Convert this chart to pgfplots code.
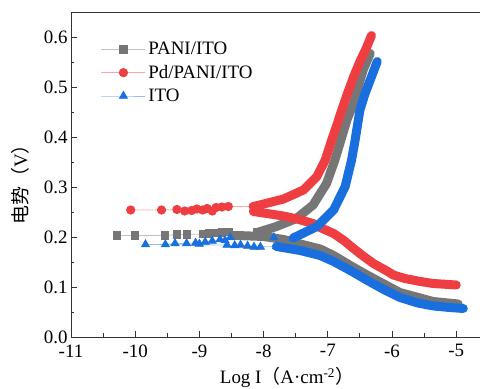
\documentclass[border=0pt]{standalone}
\usepackage{fontspec}
\setmainfont{Liberation Serif}
\newfontfamily\cjk{Noto Sans CJK SC}
\usepackage{pgfplots}
\pgfplotsset{compat=1.18}
\definecolor{cred}{RGB}{239,62,66}
\definecolor{cgray}{RGB}{118,118,118}
\definecolor{cblue}{RGB}{26,111,223}
\newcommand{\fs}{\rmfamily\fontsize{19}{21}\selectfont}
\begin{document}
\begin{tikzpicture}
\begin{axis}[
  scale only axis, width=409bp, height=325bp,
  xmin=-11, xmax=-4.63, ymin=0, ymax=0.65,
  axis x line=box, axis y line=left, axis line style={-, line width=0.9pt, color=black!80},
  xtick={-11,-10,...,-5}, ytick={0,0.1,...,0.6},
  minor x tick num=1, minor y tick num=1,
  xtick pos=bottom, ytick pos=left,
  tick align=inside,
  major tick length=6bp, minor tick length=3.5bp,
  tick style={line width=0.9pt, color=black!80},
  /pgf/number format/assume math mode=true,
  tick label style={font=\fs},
  xticklabel style={yshift=-4bp},
  yticklabel style={/pgf/number format/.cd, fixed, fixed zerofill, precision=1},
  xlabel={Log I{\cjk （}A·cm\textsuperscript{-2}{\cjk ）}},
  ylabel={{\cjk 电势（}V{\cjk ）}},
  label style={font=\fs},
  xlabel style={at={(axis description cs:0.528,-0.144)}, anchor=base},
  ylabel style={at={(axis description cs:-0.125,0.483)}, anchor=center},
  legend style={draw=none, fill=none, font=\fs, at={(axis description cs:0.073,0.915)}, anchor=north west,
    row sep=4bp, inner sep=0pt, nodes={inner sep=2.5bp}},
  legend cell align=left,
  legend image code/.code={\draw[#1, mark repeat=2, mark phase=2] plot coordinates {(0bp,0bp) (22bp,0bp) (44bp,0bp)};},
]
% ---------- PANI/ITO ----------
\addplot[cgray!45, line width=0.8pt, mark=square*, mark size=3.6bp, mark options={fill=cgray, draw=cgray, solid}]
 coordinates {(-10.29,0.203) (-10.0,0.203) (-9.54,0.203) (-9.35,0.205) (-9.2,0.205) (-8.94,0.206) (-8.85,0.207) (-8.75,0.208) (-8.65,0.209) (-8.55,0.210) (-8.42,0.203) (-8.1,0.209)};
\addlegendentry{PANI/ITO}
\addplot[cred!45, line width=0.8pt, mark=*, mark size=4.2bp, mark options={fill=cred, draw=cred, solid}]
 coordinates {(-10.07,0.254) (-9.59,0.254) (-9.35,0.255) (-9.23,0.252) (-9.12,0.253) (-9.04,0.256) (-8.95,0.254) (-8.88,0.257) (-8.80,0.252) (-8.74,0.259) (-8.65,0.260) (-8.55,0.261) (-8.16,0.261)};
\addlegendentry{Pd/PANI/ITO}
\addplot[cblue!45, line width=0.8pt, mark=triangle*, mark size=4.6bp, mark options={fill=cblue, draw=cblue, solid}]
 coordinates {(-7.8,0.181) (-8.05,0.180) (-8.15,0.180) (-8.25,0.182) (-8.36,0.184) (-8.45,0.183) (-8.57,0.184) (-9.84,0.185) (-9.53,0.185) (-9.38,0.187) (-9.2,0.187) (-9.06,0.188) (-9.0,0.186) (-8.91,0.190) (-8.8,0.192) (-8.68,0.195) (-8.6,0.193) (-8.52,0.199) (-7.84,0.199) (-7.54,0.198)};
\addlegendentry{ITO}
% ---------- bands ----------
\addplot[forget plot, cgray, line width=9bp, line cap=round, line join=round]
 coordinates {(-4.97,0.066) (-5.36,0.071) (-5.88,0.089) (-6.39,0.124) (-6.65,0.143) (-6.91,0.163) (-7.12,0.176) (-7.43,0.186) (-7.69,0.195) (-8.0,0.201) (-8.42,0.203)};
\addplot[forget plot, cgray, line width=9bp, line cap=round, line join=round]
 coordinates {(-8.1,0.209) (-7.8,0.221) (-7.49,0.237) (-7.23,0.264) (-7.02,0.307) (-6.89,0.354) (-6.78,0.401) (-6.70,0.435) (-6.60,0.467) (-6.45,0.534) (-6.34,0.567)};
\addplot[forget plot, cred, line width=9bp, line cap=round, line join=round]
 coordinates {(-5.0,0.104) (-5.36,0.107) (-5.56,0.111) (-5.8,0.117) (-5.98,0.124) (-6.08,0.132) (-6.29,0.147) (-6.45,0.162) (-6.60,0.177) (-6.75,0.193) (-6.91,0.207) (-7.12,0.219) (-7.23,0.227) (-7.45,0.235) (-7.69,0.242) (-7.95,0.247) (-8.16,0.251)};
\addplot[forget plot, cred, line width=9bp, line cap=round, line join=round]
 coordinates {(-8.16,0.261) (-8.06,0.264) (-7.69,0.276) (-7.38,0.294) (-7.17,0.321) (-7.04,0.354) (-6.94,0.394) (-6.87,0.420) (-6.78,0.455) (-6.70,0.485) (-6.60,0.520) (-6.50,0.551) (-6.40,0.578) (-6.32,0.603)};
\addplot[forget plot, cblue, line width=9bp, line cap=round, line join=round]
 coordinates {(-4.89,0.057) (-5.1,0.059) (-5.356,0.062) (-5.6,0.068) (-5.875,0.079) (-6.13,0.095) (-6.395,0.114) (-6.65,0.133) (-6.91,0.151) (-7.12,0.163) (-7.43,0.173) (-7.8,0.181)};
\addplot[forget plot, cblue, line width=9bp, line cap=round, line join=round]
 coordinates {(-7.54,0.198) (-7.49,0.201) (-7.17,0.221) (-6.91,0.254) (-6.73,0.301) (-6.63,0.354) (-6.58,0.390) (-6.50,0.454) (-6.42,0.487) (-6.34,0.514) (-6.23,0.551)};
\end{axis}
\pgfresetboundingbox
\path[use as bounding box] ([shift={(-71bp,-52bp)}]current axis.south west) rectangle ([shift={(0bp,12bp)}]current axis.north east);
\end{tikzpicture}
\end{document}
